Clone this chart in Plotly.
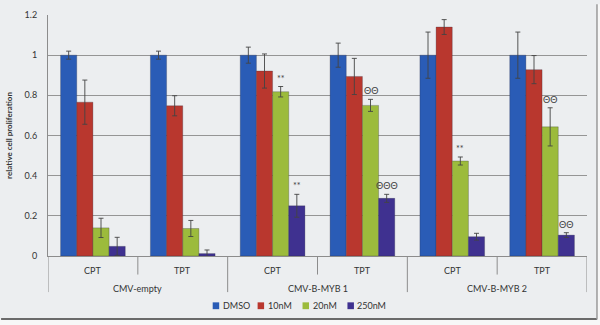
import plotly.graph_objects as go

# ---- data ----
cell_lines = ["CMV-empty", "CMV-B-MYB 1", "CMV-B-MYB 2"]
drugs = ["CPT", "TPT"]
categories = [f"{c} {d}" for c in cell_lines for d in drugs]

series_names = ["DMSO", "10nM", "20nM", "250nM"]
dmso = [1.0, 1.0, 1.0, 1.0, 1.0, 1.0]
dmso_err = [0.02, 0.02, 0.04, 0.06, 0.115, 0.115]
nm10 = [0.766, 0.748, 0.921, 0.894, 1.14, 0.928]
nm10_err = [0.11, 0.05, 0.085, 0.09, 0.037, 0.07]
nm20 = [0.14, 0.137, 0.818, 0.75, 0.473, 0.643]
nm20_err = [0.048, 0.04, 0.026, 0.03, 0.02, 0.095]
nm250 = [0.048, 0.012, 0.25, 0.287, 0.096, 0.104]
nm250_err = [0.045, 0.018, 0.057, 0.02, 0.017, 0.012]

# significance marks: (category index, series index, label)
sig_cat = [2, 2, 3, 3, 4, 5, 5]
sig_series = [2, 3, 2, 3, 2, 2, 3]
sig_label = ["**", "**", "ΘΘ", "ΘΘΘ", "**", "ΘΘ", "ΘΘ"]

y_ticks = [0, 0.2, 0.4, 0.6, 0.8, 1.0, 1.2]
y_tick_text = ["0", "0.2", "0.4", "0.6", "0.8", "1", "1.2"]

colors = ["#2a5cb6", "#b9372e", "#9cbb3c", "#3f3190"]

values = [dmso, nm10, nm20, nm250]
errors = [dmso_err, nm10_err, nm20_err, nm250_err]

FONT = "Lato, Open Sans, sans-serif"
TXT = "#333333"
BG = "#eceef0"
AX = "#8c8c8c"

W, H = 600, 325
ML, MR, MT, MB = 47, 13, 9, 69
PW, PH = W - ML - MR, H - MT - MB


def px_x(p):
    return (p - ML) / PW


def px_y(p):
    return (MT + PH - p) / PH


fig = go.Figure()
for name, v, e, c in zip(series_names, values, errors, colors):
    fig.add_trace(go.Bar(
        x=categories, y=v, name=name, showlegend=False,
        marker=dict(color=c, line=dict(color="rgba(40,40,60,0.45)", width=0.6)),
        error_y=dict(type="data", array=e, visible=True, color="#444444",
                     thickness=0.9, width=2.5),
    ))

bargap = 0.28
bw = (1 - bargap) / len(series_names)
annos = []
shapes = []
for ci, si, lab in zip(sig_cat, sig_series, sig_label):
    xpos = ci - (1 - bargap) / 2 + bw * (si + 0.5)
    ytop = values[si][ci] + errors[si][ci]
    annos.append(dict(x=xpos, y=ytop, xref="x", yref="y", text=lab, showarrow=False,
                      yanchor="bottom", yshift=1,
                      font=dict(family=FONT, size=9, color="#404040")))

# two-level category labels with Excel-like dividers
n_in = len(drugs)
for gi, grp in enumerate(cell_lines):
    for di, d in enumerate(drugs):
        idx = gi * n_in + di
        annos.append(dict(x=idx, y=px_y(271), xref="x", yref="paper", text=d, showarrow=False,
                          xanchor="center", yanchor="middle",
                          font=dict(family=FONT, size=9, color=TXT)))
        if di > 0:
            shapes.append(dict(type="line", xref="x", yref="paper", x0=idx - 0.5, x1=idx - 0.5,
                               y0=px_y(256), y1=px_y(275), line=dict(color=AX, width=1)))
    annos.append(dict(x=gi * n_in + (n_in - 1) / 2, y=px_y(289), xref="x", yref="paper", text=grp,
                      showarrow=False, xanchor="center", yanchor="middle",
                      font=dict(family=FONT, size=9, color=TXT)))
for gi in range(len(cell_lines) + 1):
    xb = gi * n_in - 0.5
    shapes.append(dict(type="line", xref="x", yref="paper", x0=xb, x1=xb,
                       y0=px_y(256), y1=px_y(293), line=dict(color=AX, width=1)))

# compact legend (Excel style)
leg_x0, leg_step, leg_y = 212, 45, 307
for i, (name, c) in enumerate(zip(series_names, colors)):
    sx = leg_x0 + leg_step * i
    shapes.append(dict(type="rect", xref="paper", yref="paper",
                       x0=px_x(sx), x1=px_x(sx + 6.5), y0=px_y(leg_y + 3.5), y1=px_y(leg_y - 3.5),
                       fillcolor=c, line=dict(width=0)))
    annos.append(dict(x=px_x(sx + 8), y=px_y(leg_y), xref="paper", yref="paper",
                      text=name, showarrow=False, xanchor="left", yanchor="middle",
                      font=dict(family=FONT, size=9, color=TXT)))

# frame of the picture
shapes += [
    dict(type="rect", xref="paper", yref="paper", x0=px_x(597), x1=px_x(602), y0=px_y(-2), y1=px_y(327),
         fillcolor="#f7f7f7", line=dict(width=0), layer="below"),
    dict(type="rect", xref="paper", yref="paper", x0=px_x(-2), x1=px_x(602), y0=px_y(321), y1=px_y(327),
         fillcolor="#f7f7f7", line=dict(width=0), layer="below"),
    dict(type="line", xref="paper", yref="paper", x0=px_x(0), x1=px_x(597), y0=px_y(320.5), y1=px_y(320.5),
         line=dict(color="#6a6a6a", width=2)),
    dict(type="line", xref="paper", yref="paper", x0=px_x(597), x1=px_x(597), y0=px_y(321), y1=px_y(-2),
         line=dict(color="#9a9a9a", width=1.5)),
]

fig.update_layout(
    width=W, height=H,
    margin=dict(l=ML, r=MR, t=MT, b=MB),
    paper_bgcolor=BG, plot_bgcolor=BG,
    barmode="group", bargap=bargap, bargroupgap=0,
    font=dict(family=FONT, size=9, color=TXT),
    showlegend=False,
    annotations=annos,
    shapes=shapes,
    xaxis=dict(type="category", showgrid=False, showticklabels=False, ticks="",
               range=[-0.5, len(categories) - 0.5],
               showline=True, linecolor=AX, linewidth=1),
    yaxis=dict(range=[0, 1.2], tickvals=y_ticks, ticktext=y_tick_text,
               showgrid=True, gridcolor="#959595", gridwidth=1,
               showline=True, linecolor=AX, linewidth=1,
               zeroline=False, ticks="", ticklabelstandoff=8,
               tickfont=dict(family=FONT, size=9, color=TXT),
               title=dict(text="<b>relative cell proliferation</b>", standoff=10,
                          font=dict(family=FONT, size=8, color=TXT))),
)

fig.write_html(
    "out.html",
    config={"displayModeBar": False},
    post_script="document.body.style.margin='0';document.body.style.background='" + BG + "';",
)
